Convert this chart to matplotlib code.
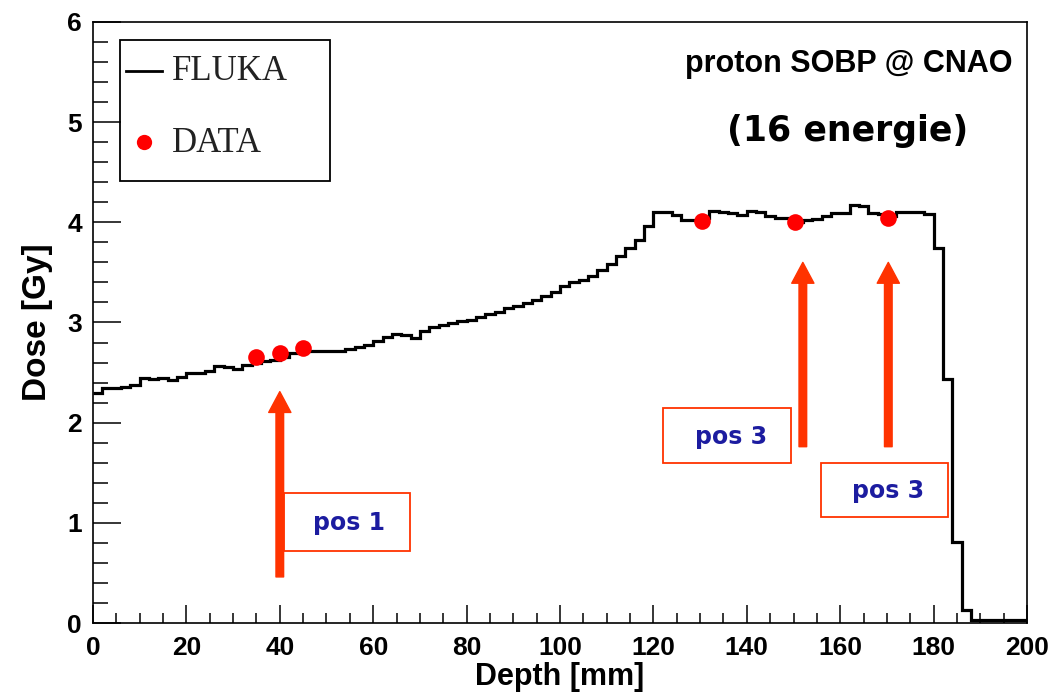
import numpy as np
import matplotlib.pyplot as plt
from matplotlib.patches import FancyArrowPatch, Rectangle
from matplotlib.lines import Line2D
from matplotlib.ticker import MultipleLocator

# === DATA ===
# FLUKA histogram, 2 mm bins from 0 to 200 mm
bin_edges = np.arange(0, 202, 2)
fluka_dose = [
    2.30, 2.35, 2.35, 2.36, 2.38, 2.45, 2.44, 2.45, 2.43, 2.46,   # 0-20
    2.50, 2.50, 2.52, 2.57, 2.56, 2.54, 2.58, 2.60, 2.62, 2.63,   # 20-40
    2.66, 2.70, 2.72, 2.72, 2.72, 2.72, 2.72, 2.74, 2.76, 2.78,   # 40-60
    2.82, 2.86, 2.89, 2.88, 2.85, 2.92, 2.95, 2.97, 2.99, 3.01,   # 60-80
    3.02, 3.05, 3.08, 3.10, 3.14, 3.16, 3.19, 3.22, 3.26, 3.30,   # 80-100
    3.36, 3.40, 3.42, 3.46, 3.52, 3.58, 3.66, 3.74, 3.82, 3.96,   # 100-120
    4.10, 4.10, 4.07, 4.02, 4.02, 4.04, 4.11, 4.10, 4.09, 4.07,   # 120-140
    4.11, 4.10, 4.06, 4.04, 4.04, 4.00, 4.02, 4.03, 4.06, 4.09,   # 140-160
    4.09, 4.17, 4.16, 4.09, 4.08, 4.06, 4.10, 4.10, 4.10, 4.08,   # 160-180
    3.74, 2.44, 0.81, 0.13, 0.03, 0.03, 0.03, 0.03, 0.03, 0.03,   # 180-200
]

# measured points
data_depth = [35, 40, 45, 130.5, 150.3, 170.3]
data_dose = [2.66, 2.70, 2.75, 4.01, 4.00, 4.04]

# arrows (x, y_start, y_tip) and labelled boxes (x0, x1, y0, y1, label, text x, text y)
arrows = [(40, 0.46, 2.31), (152, 1.76, 3.60), (170.3, 1.76, 3.60)]
boxes = [
    (41.0, 67.8, 0.72, 1.30, "pos 1", 54.8, 1.00),
    (122.1, 149.5, 1.60, 2.15, "pos 3", 136.6, 1.86),
    (155.9, 183.1, 1.06, 1.60, "pos 3", 170.3, 1.32),
]

orange = "#ff3300"
navy = "#1c1ca0"

plt.rcParams['font.family'] = ['Liberation Sans', 'DejaVu Sans']

fig = plt.figure(figsize=(10.58, 6.93), dpi=100)
ax = fig.add_axes([0.0879, 0.1010, 0.8828, 0.8673])

ax.stairs(fluka_dose, bin_edges, color="black", lw=2.3, baseline=None, zorder=3)
ax.plot(data_depth, data_dose, "o", color="red", ms=12, mec="none", zorder=4)

# arrows
for x, y0, y1 in arrows:
    arr = FancyArrowPatch((x, y0), (x, y1),
                          arrowstyle="simple,tail_width=0.55,head_width=1.6,head_length=1.5",
                          mutation_scale=10, color=orange, shrinkA=0, shrinkB=0, zorder=5)
    ax.add_patch(arr)

# boxes with labels
for x0, x1, y0, y1, label, tx, ty in boxes:
    ax.add_patch(Rectangle((x0, y0), x1 - x0, y1 - y0, fill=False,
                           edgecolor=orange, lw=1.3, zorder=4))
    ax.text(tx, ty, label, color=navy, fontsize=17, fontweight="bold",
            ha="center", va="center", family="DejaVu Sans", zorder=6)

# axes ranges and ticks (ROOT style)
ax.set_xlim(0, 200)
ax.set_ylim(0, 6)
ax.xaxis.set_major_locator(MultipleLocator(20))
ax.xaxis.set_minor_locator(MultipleLocator(5))
ax.yaxis.set_major_locator(MultipleLocator(1))
ax.yaxis.set_minor_locator(MultipleLocator(0.2))
ax.tick_params(axis="x", which="major", direction="in", length=13, width=1.1,
               labelsize=19, pad=9)
ax.tick_params(axis="x", which="minor", direction="in", length=7, width=1.1)
ax.tick_params(axis="y", which="major", direction="in", length=20, width=1.1,
               labelsize=19, pad=8)
ax.tick_params(axis="y", which="minor", direction="in", length=11, width=1.1)
for lab in ax.get_xticklabels() + ax.get_yticklabels():
    lab.set_fontweight("bold")
for sp in ax.spines.values():
    sp.set_linewidth(1.2)

ax.set_xlabel("Depth [mm]", fontsize=22, fontweight="bold", labelpad=2)
ax.set_ylabel("Dose [Gy]", fontsize=24, fontweight="bold", labelpad=10)

# legend box
ax.add_patch(Rectangle((0.029, 0.736), 0.225, 0.234, transform=ax.transAxes,
                       fill=False, edgecolor="black", lw=1.3, zorder=6))
ax.add_line(Line2D([0.035, 0.074], [0.918, 0.918], transform=ax.transAxes,
                   color="black", lw=2.0, zorder=6))
ax.plot([0.055], [0.800], "o", transform=ax.transAxes, color="red", ms=11,
        mec="none", zorder=6)
ax.text(0.085, 0.918, "FLUKA", transform=ax.transAxes, fontsize=25,
        family="Liberation Serif", va="center", ha="left", color="#222222")
ax.text(0.085, 0.798, "DATA", transform=ax.transAxes, fontsize=25,
        family="Liberation Serif", va="center", ha="left", color="#222222")

# title texts
ax.text(0.985, 0.930, "proton SOBP @ CNAO", transform=ax.transAxes,
        fontsize=22, fontweight="bold", ha="right", va="center")
ax.text(0.937, 0.818, "(16 energie)", transform=ax.transAxes,
        fontsize=25, fontweight="bold", ha="right", va="center", family="DejaVu Sans")

fig.savefig("out.png", dpi=100)
